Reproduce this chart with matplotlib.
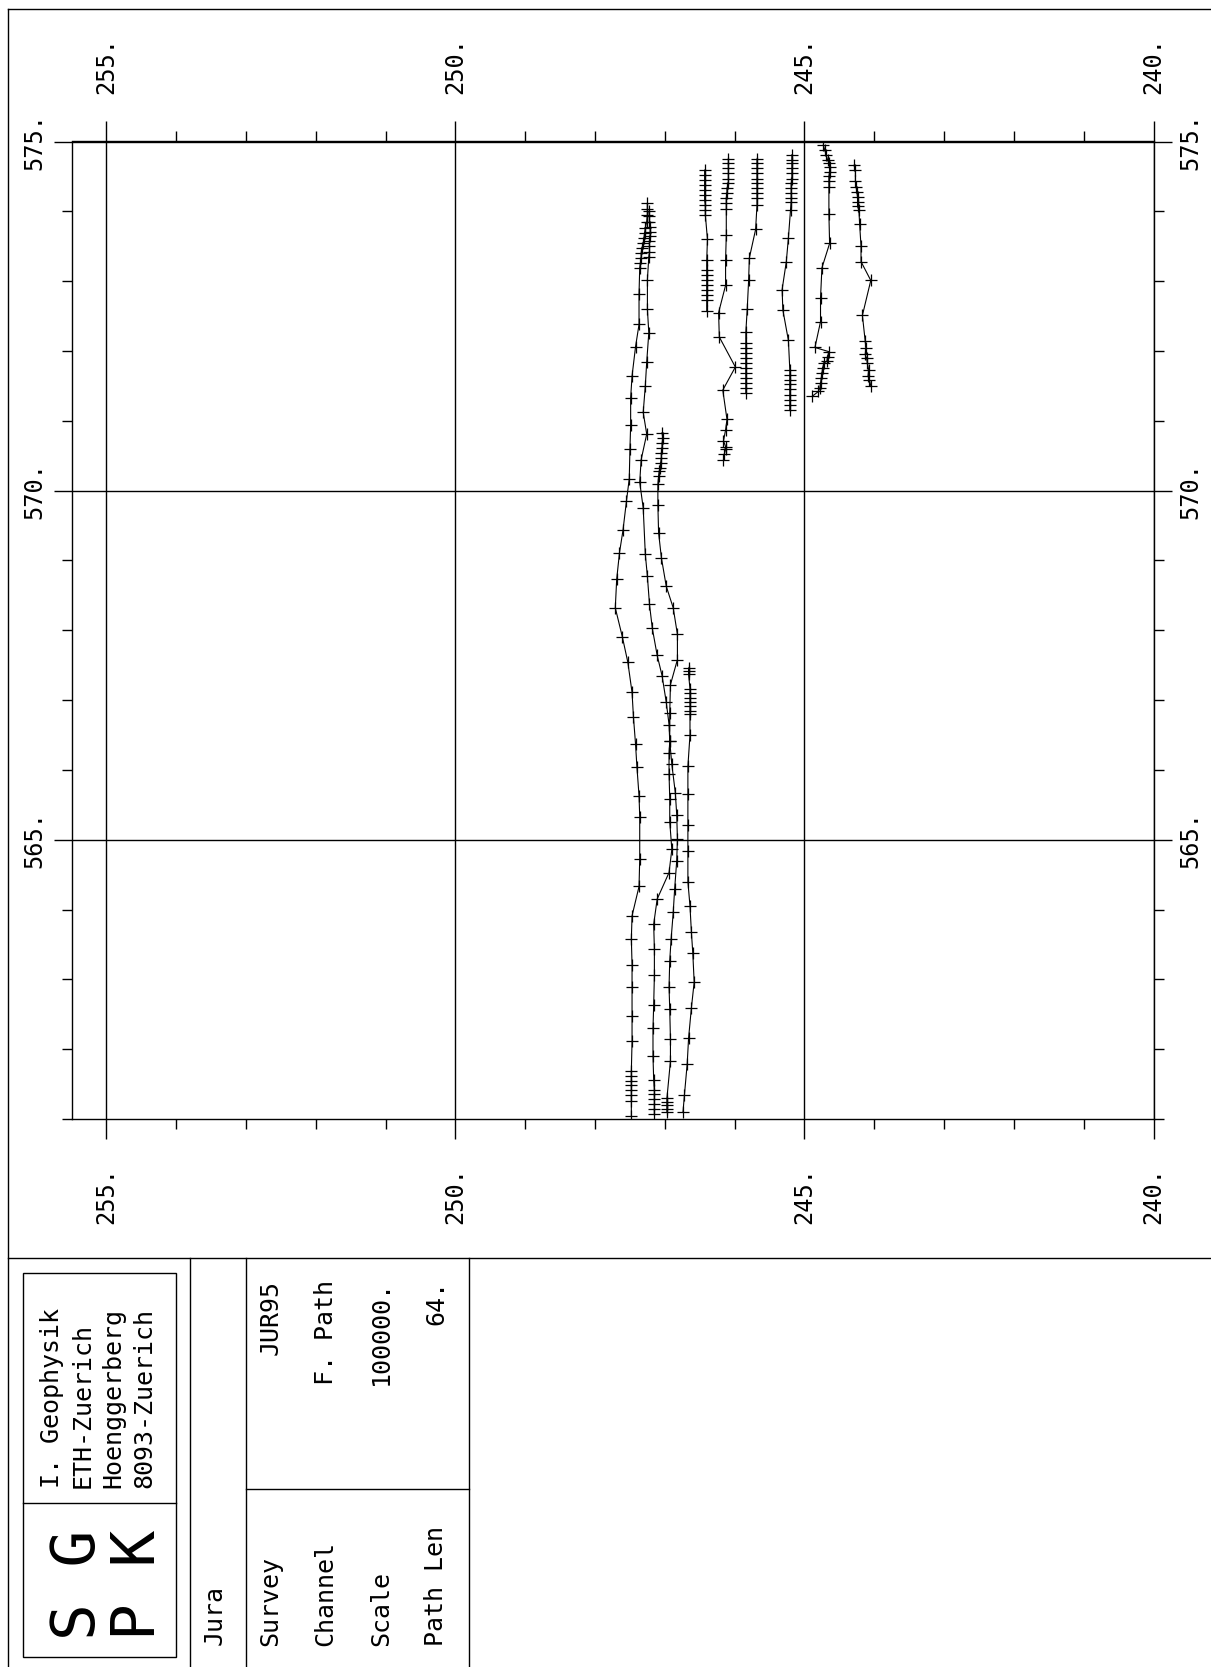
import matplotlib.pyplot as plt
from matplotlib.patches import Rectangle
from matplotlib.ticker import FixedLocator, MultipleLocator, FuncFormatter

plt.rcParams['font.family'] = ['DejaVu Sans Mono', 'DejaVu Sans']

# profile tracks: (easting km, northing km)
track_a = [(247.25, 574.12), (247.25, 574.04), (247.25, 573.95), (247.26, 573.85), (247.28, 573.76),
           (247.29, 573.69), (247.30, 573.62), (247.31, 573.54), (247.33, 573.47), (247.34, 573.40),
           (247.34, 573.33), (247.35, 573.26), (247.36, 573.19), (247.37, 572.82), (247.37, 572.38),
           (247.42, 572.06), (247.47, 571.64), (247.49, 571.33), (247.49, 570.94), (247.50, 570.60),
           (247.51, 570.17), (247.55, 569.85), (247.60, 569.43), (247.65, 569.11), (247.69, 568.73),
           (247.71, 568.32), (247.61, 567.91), (247.53, 567.54), (247.47, 567.11), (247.45, 566.76),
           (247.42, 566.37), (247.40, 566.04), (247.37, 565.63), (247.36, 565.33), (247.36, 564.72),
           (247.37, 564.33), (247.47, 563.91), (247.48, 563.58), (247.47, 563.21), (247.47, 562.89),
           (247.47, 562.47), (247.47, 562.11), (247.48, 561.69), (247.48, 561.62), (247.48, 561.55),
           (247.48, 561.48), (247.48, 561.41), (247.48, 561.34), (247.48, 561.26), (247.48, 561.05)]

track_b = [(247.23, 574.00), (247.22, 573.93), (247.22, 573.85), (247.21, 573.78), (247.21, 573.71),
           (247.21, 573.64), (247.22, 573.57), (247.22, 573.50), (247.22, 573.42), (247.23, 573.35),
           (247.25, 573.02), (247.25, 572.60), (247.23, 572.26), (247.26, 571.84), (247.28, 571.50),
           (247.31, 571.12), (247.26, 570.81), (247.34, 570.44), (247.36, 570.12), (247.31, 569.75),
           (247.28, 569.09), (247.25, 568.77), (247.22, 568.37), (247.18, 568.03), (247.11, 567.64),
           (247.04, 567.35), (246.98, 566.97), (246.94, 566.65), (246.93, 566.41), (246.94, 566.24),
           (246.94, 565.94), (246.93, 565.59), (246.93, 565.26), (246.90, 564.86), (246.94, 564.53),
           (247.11, 564.15), (247.16, 563.79), (247.15, 563.43), (247.15, 563.06), (247.16, 562.63),
           (247.17, 562.30), (247.17, 561.90), (247.16, 561.56), (247.15, 561.41), (247.15, 561.36),
           (247.15, 561.29), (247.15, 561.22), (247.15, 561.15), (247.15, 561.07)]

track_c = [(247.04, 570.83), (247.03, 570.75), (247.04, 570.68), (247.04, 570.61), (247.05, 570.54),
           (247.05, 570.47), (247.06, 570.40), (247.07, 570.32), (247.08, 570.28), (247.09, 570.21),
           (247.10, 570.09), (247.10, 569.80), (247.09, 569.40), (247.05, 569.04), (246.98, 568.63),
           (246.88, 568.32), (246.82, 567.94), (246.82, 567.58), (246.92, 567.22), (246.93, 566.82),
           (246.93, 566.41), (246.90, 566.08), (246.85, 565.67), (246.83, 565.36), (246.82, 565.01),
           (246.83, 564.70), (246.86, 564.29), (246.88, 563.96), (246.91, 563.58), (246.93, 563.27),
           (246.94, 562.89), (246.93, 562.57), (246.92, 562.14), (246.92, 561.83), (246.97, 561.30),
           (246.97, 561.25), (246.97, 561.20), (246.97, 561.15), (246.97, 561.10)]

track_d = [(246.66, 567.46), (246.66, 567.42), (246.66, 567.37), (246.64, 567.16), (246.64, 567.10),
           (246.64, 567.03), (246.64, 566.97), (246.64, 566.91), (246.64, 566.85), (246.64, 566.80),
           (246.64, 566.50), (246.67, 566.05), (246.67, 565.65), (246.67, 565.21), (246.67, 564.84),
           (246.67, 564.40), (246.64, 564.05), (246.62, 563.68), (246.60, 563.38), (246.58, 562.96),
           (246.62, 562.59), (246.66, 562.16), (246.68, 561.79), (246.72, 561.34), (246.74, 561.10)]

track_e = [(246.43, 574.59), (246.43, 574.52), (246.43, 574.45), (246.43, 574.38), (246.43, 574.31),
           (246.43, 574.24), (246.43, 574.16), (246.42, 574.09), (246.42, 574.02), (246.42, 573.95),
           (246.39, 573.60), (246.40, 573.30), (246.40, 573.16), (246.40, 573.09), (246.40, 573.02),
           (246.40, 572.95), (246.40, 572.88), (246.40, 572.80), (246.40, 572.73), (246.40, 572.57)]

track_f = [(246.09, 574.75), (246.09, 574.69), (246.09, 574.62), (246.09, 574.55), (246.09, 574.47),
           (246.09, 574.40), (246.11, 574.33), (246.11, 574.26), (246.12, 574.19), (246.12, 574.12),
           (246.12, 574.04), (246.12, 573.66), (246.13, 573.30), (246.13, 572.94), (246.23, 572.55),
           (246.22, 572.20), (245.99, 571.77), (246.17, 571.44), (246.11, 571.02), (246.13, 570.87),
           (246.16, 570.71), (246.13, 570.63), (246.13, 570.59), (246.15, 570.52), (246.16, 570.44)]

track_g = [(245.68, 574.75), (245.68, 574.69), (245.68, 574.62), (245.68, 574.55), (245.68, 574.47),
           (245.68, 574.40), (245.68, 574.33), (245.68, 574.26), (245.68, 574.19), (245.68, 574.09),
           (245.70, 573.74), (245.79, 573.33), (245.80, 573.01), (245.82, 572.60), (245.84, 572.27),
           (245.84, 572.11), (245.84, 572.04), (245.84, 571.97), (245.84, 571.90), (245.84, 571.83),
           (245.84, 571.76), (245.84, 571.68), (245.84, 571.61), (245.84, 571.54), (245.84, 571.47),
           (245.84, 571.40)]

track_h = [(245.18, 574.81), (245.18, 574.74), (245.18, 574.69), (245.18, 574.62), (245.18, 574.55),
           (245.18, 574.47), (245.19, 574.40), (245.19, 574.33), (245.19, 574.26), (245.19, 574.19),
           (245.19, 574.14), (245.20, 574.02), (245.23, 573.62), (245.26, 573.28), (245.32, 572.88),
           (245.31, 572.59), (245.23, 572.15), (245.21, 571.73), (245.21, 571.66), (245.21, 571.59),
           (245.21, 571.52), (245.21, 571.45), (245.21, 571.37), (245.21, 571.30), (245.21, 571.23),
           (245.21, 571.16)]

track_i = [(244.73, 574.95), (244.71, 574.88), (244.69, 574.81), (244.67, 574.74), (244.65, 574.69),
           (244.64, 574.64), (244.64, 574.57), (244.65, 574.50), (244.65, 574.43), (244.65, 574.35),
           (244.65, 573.96), (244.64, 573.54), (244.75, 573.19), (244.77, 572.76), (244.77, 572.42),
           (244.85, 572.05), (244.65, 571.99), (244.67, 571.92), (244.68, 571.85), (244.72, 571.83),
           (244.74, 571.76), (244.75, 571.68), (244.76, 571.61), (244.77, 571.54), (244.78, 571.47),
           (244.80, 571.42), (244.89, 571.35)]

track_j = [(244.29, 574.66), (244.27, 574.59), (244.27, 574.43), (244.26, 574.35), (244.25, 574.28),
           (244.24, 574.21), (244.24, 574.14), (244.24, 574.07), (244.22, 574.02), (244.21, 573.82),
           (244.19, 573.50), (244.19, 573.28), (244.05, 573.01), (244.17, 572.51), (244.13, 572.14),
           (244.12, 572.04), (244.13, 571.95), (244.11, 571.90), (244.10, 571.83), (244.08, 571.73),
           (244.09, 571.64), (244.07, 571.59), (244.05, 571.50)]

tracks = [track_a, track_b, track_c, track_d, track_e, track_f, track_g, track_h, track_i, track_j]

x_major = [255, 250, 245, 240]
y_major = [575, 570, 565]

info_keys = ['Survey', 'Channel', 'Scale', 'Path Len']
info_vals = ['JUR95', 'F. Path', '100000.', '64.']
address = ['I. Geophysik', 'ETH-Zuerich', 'Hoenggerberg', '8093-Zuerich']

W, H = 1211, 1667
fig = plt.figure(figsize=(W / 100, H / 100), dpi=100)

# page layer in pixel units
bg = fig.add_axes([0, 0, 1, 1])
bg.set_xlim(0, W)
bg.set_ylim(H, 0)
bg.axis('off')

lw = 1.0
bg.plot([8, W], [8.5, 8.5], color='k', lw=lw)
bg.plot([8, 8], [8.5, H], color='k', lw=lw)
bg.plot([8, W], [1258, 1258], color='k', lw=lw)
bg.add_patch(Rectangle((22.7, 1272.7), 153.3, 384, fill=False, lw=lw, ec='k'))
bg.plot([22.7, 176], [1502.7, 1502.7], color='k', lw=lw)
for xv in [190, 246, 469]:
    bg.plot([xv, xv], [1258, H], color='k', lw=lw)
bg.plot([246, 469], [1488.7, 1488.7], color='k', lw=lw)

txt = dict(rotation=90, rotation_mode='anchor', va='baseline', color='k')
bg.text(95, 1640, 'S G', ha='left', fontsize=44, **txt)
bg.text(155, 1640, 'P K', ha='left', fontsize=44, **txt)
for xb, s in zip([59.3, 89.3, 120, 151.7], address):
    bg.text(xb, 1488, s, ha='left', fontsize=18, **txt)
bg.text(221.7, 1645, 'Jura', ha='left', fontsize=18, **txt)
for xb, k, v in zip([277.3, 332.7, 388.3, 443.3], info_keys, info_vals):
    bg.text(xb, 1646, k, ha='left', fontsize=18, **txt)
    bg.text(xb, 1280, v, ha='right', fontsize=18, **txt)

# map
ax = fig.add_axes([71.5 / W, 1 - 1119 / H, 1082 / W, 977.5 / H])
for t in tracks:
    xs = [p[0] for p in t]
    ys = [p[1] for p in t]
    ax.plot(xs, ys, color='k', lw=0.8, marker='+', ms=8.5, mew=0.9)

ax.set_xlim(255.5, 240)
ax.set_ylim(561, 575)
ax.xaxis.set_major_locator(FixedLocator(x_major))
ax.xaxis.set_minor_locator(MultipleLocator(1))
ax.yaxis.set_major_locator(FixedLocator(y_major))
ax.yaxis.set_minor_locator(MultipleLocator(1))
fmt = FuncFormatter(lambda v, p: f"{v:.0f}.")
ax.xaxis.set_major_formatter(fmt)
ax.yaxis.set_major_formatter(fmt)

ax.grid(True, which='major', color='k', lw=1.0)
for s in ax.spines.values():
    s.set_linewidth(1.0)

ax.tick_params(which='both', direction='out', width=1.0, labelsize=17, colors='k')
ax.tick_params(axis='x', which='both', top=True, bottom=True, labeltop=True, labelbottom=True,
               labelrotation=90)
ax.tick_params(axis='y', which='both', left=True, right=True, labelleft=True, labelright=True,
               labelrotation=90)
ax.tick_params(axis='x', which='major', length=14.4, pad=20)
ax.tick_params(axis='y', which='major', length=13, pad=5)
ax.tick_params(which='minor', length=7)
for tk in ax.yaxis.get_major_ticks():
    tk.label1.set_verticalalignment('center')
    tk.label2.set_verticalalignment('center')

fig.savefig('out.png', dpi=100)
